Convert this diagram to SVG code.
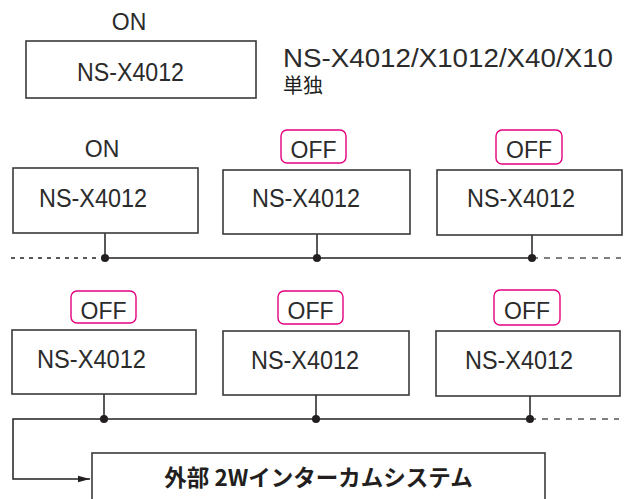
<svg xmlns="http://www.w3.org/2000/svg" width="631" height="499" viewBox="0 0 631 499">
<defs>
<style>
.box{fill:#fff;stroke:#3a3a3a;stroke-width:1.6}
.sw{fill:#fff;stroke:#e4007f;stroke-width:1.4}
.t{font-family:"Liberation Sans",Arial,sans-serif;fill:#2b2b2b}
.lbl{font-size:23px;text-anchor:middle}
.nm{font-size:25px}
.ln{fill:none;stroke:#231f20;stroke-width:1.5}
.dl{fill:none;stroke:#231f20;stroke-width:1.3;stroke-dasharray:4 5}
.dr{fill:none;stroke:#555;stroke-width:1.5;stroke-dasharray:6 6}
.dot{fill:#231f20}
.jp{font-family:"Noto Sans CJK JP","Noto Sans",sans-serif;fill:#231f20}
</style>
<marker id="ah" markerWidth="12" markerHeight="8" refX="12" refY="4" orient="auto" markerUnits="userSpaceOnUse">
<path d="M0,0.8 L12,4 L0,7.2 Z" fill="#231f20"/>
</marker>
</defs>
<rect width="631" height="499" fill="#fff"/>

<g id="solo">
<text class="t lbl" x="129" y="30">ON</text>
<rect class="box" x="26" y="41" width="230" height="57"/>
<text class="t nm" x="77" y="81" textLength="107" lengthAdjust="spacingAndGlyphs">NS-X4012</text>
<text class="t" x="283" y="67" font-size="25" textLength="330" lengthAdjust="spacingAndGlyphs">NS-X4012/X1012/X40/X10</text>
<text class="jp" x="283" y="93" font-size="20">単独</text>
</g>

<g id="connectors">
<line class="dl" x1="11" y1="258" x2="105" y2="258"/>
<line class="ln" x1="105" y1="258" x2="532" y2="258"/>
<line class="dr" x1="532" y1="258" x2="621" y2="258"/>
<line class="ln" x1="105" y1="214" x2="105" y2="258"/>
<line class="ln" x1="317" y1="219" x2="317" y2="258"/>
<line class="ln" x1="532" y1="218" x2="532" y2="258"/>
<circle class="dot" cx="105" cy="258" r="4"/>
<circle class="dot" cx="317" cy="258" r="4"/>
<circle class="dot" cx="532" cy="258" r="4"/>

<line class="ln" x1="104" y1="379" x2="104" y2="419"/>
<line class="ln" x1="316" y1="380" x2="316" y2="419"/>
<line class="ln" x1="530" y1="379" x2="530" y2="419"/>
<line class="ln" x1="104" y1="419" x2="530" y2="419"/>
<line class="dr" x1="530" y1="419" x2="619" y2="419"/>
<path class="ln" d="M104,419 H13 V479 H90" marker-end="url(#ah)"/>
<circle class="dot" cx="104" cy="419" r="4"/>
<circle class="dot" cx="316" cy="419" r="4"/>
<circle class="dot" cx="530" cy="419" r="4"/>
</g>

<g id="r1n1">
<text class="t lbl" x="102" y="157">ON</text>
<rect class="box" x="13" y="168" width="185" height="65"/>
<text class="t nm" x="39" y="207" textLength="108" lengthAdjust="spacingAndGlyphs">NS-X4012</text>
</g>
<g id="r1n2">
<rect class="sw" x="281" y="130" width="65" height="33" rx="6"/>
<text class="t lbl" x="313.5" y="158">OFF</text>
<rect class="box" x="223" y="170" width="187" height="64"/>
<text class="t nm" x="252" y="207" textLength="108" lengthAdjust="spacingAndGlyphs">NS-X4012</text>
</g>
<g id="r1n3">
<rect class="sw" x="496" y="130" width="66" height="34" rx="6"/>
<text class="t lbl" x="529" y="158">OFF</text>
<rect class="box" x="437" y="170" width="185" height="65"/>
<text class="t nm" x="467" y="207" textLength="108" lengthAdjust="spacingAndGlyphs">NS-X4012</text>
</g>

<g id="r2n1">
<rect class="sw" x="71" y="291" width="65" height="32" rx="6"/>
<text class="t lbl" x="103.5" y="319">OFF</text>
<rect class="box" x="12" y="330" width="184" height="64"/>
<text class="t nm" x="37" y="368" textLength="109" lengthAdjust="spacingAndGlyphs">NS-X4012</text>
</g>
<g id="r2n2">
<rect class="sw" x="278" y="291" width="65" height="33" rx="6"/>
<text class="t lbl" x="310.5" y="319">OFF</text>
<rect class="box" x="223" y="331" width="186" height="64"/>
<text class="t nm" x="251" y="369" textLength="108" lengthAdjust="spacingAndGlyphs">NS-X4012</text>
</g>
<g id="r2n3">
<rect class="sw" x="494" y="290" width="66" height="35" rx="6"/>
<text class="t lbl" x="527" y="319">OFF</text>
<rect class="box" x="436" y="331" width="184" height="65"/>
<text class="t nm" x="465" y="369" textLength="108" lengthAdjust="spacingAndGlyphs">NS-X4012</text>
</g>

<g id="intercom">
<rect class="box" x="92" y="453" width="453" height="60"/>
<text class="jp" x="318.5" y="486" font-size="22.5" font-weight="bold" text-anchor="middle">外部 2Wインターカムシステム</text>
</g>
</svg>
